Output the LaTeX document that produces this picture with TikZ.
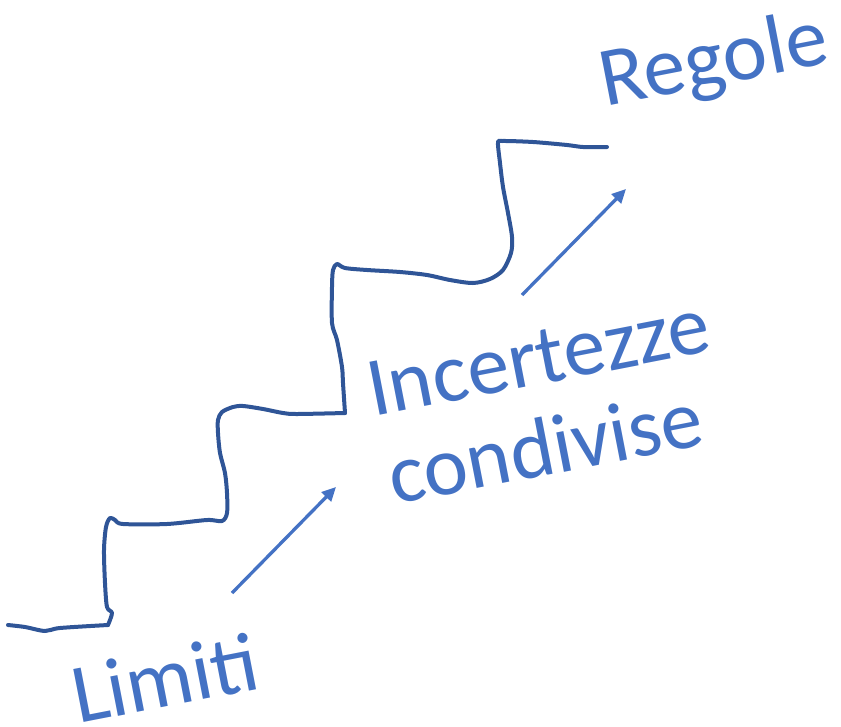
\documentclass[tikz,border=0pt]{standalone}
\usepackage{fontspec}
\setmainfont{Carlito}
\usetikzlibrary{arrows.meta}
\definecolor{stairblue}{HTML}{2F5597}
\definecolor{textblue}{HTML}{4472C4}
\begin{document}
\begin{tikzpicture}[x=1pt,y=-1pt,
  stair/.style={draw=stairblue, line width=4pt, line cap=round, line join=round},
  rise/.style={draw=textblue, line width=3.3pt, -{Triangle[length=14pt,width=13pt]}},
  wordlabel/.style={text=textblue, font=\fontsize{84}{92}\selectfont, inner sep=0pt, rotate=11, anchor=base west}]
\useasboundingbox (0,0) rectangle (841,726);

% hand-drawn staircase
\draw[stair] plot[smooth, tension=0.5] coordinates {(8,625) (25,627) (45,631) (60,628) (108,625)};
\draw[stair] plot[smooth, tension=0.5] coordinates {(108,625) (112,613) (107,607) (105,583) (104,550) (106,527) (110,518) (115,520) (123,524) (167,524) (207,520) (222,521) (227,513) (227,493) (225,473) (220,453) (218,433) (218,420) (222,412) (233,407) (243,406) (263,409) (283,413) (297,414) (345,413)};
\draw[stair] plot[smooth, tension=0.5] coordinates {(345,413) (343,383) (342,367) (337,340) (332,323) (332,287) (333,270) (337,264) (345,268) (367,270) (400,272) (427,275) (450,280) (473,283) (490,279) (503,270) (511,253) (512,237) (508,213) (503,187) (500,163) (498,143) (502,141) (533,142) (567,145) (583,147) (607,147)};

% words
\node[wordlabel] (limiti) at (78,724) {Limiti};
\node[wordlabel] (incertezze) at (373,417) {Incertezze};
\node[wordlabel] (condivise) at (394,505) {condivise};
\node[wordlabel] (regole) at (605,107) {Regole};

% arrows between the steps
\coordinate (a1s) at (232,593);
\coordinate (a1e) at (336,487);
\coordinate (a2s) at (522,295);
\coordinate (a2e) at (626,189);
\draw[rise] (a1s) -- (a1e);
\draw[rise] (a2s) -- (a2e);
\end{tikzpicture}
\end{document}
